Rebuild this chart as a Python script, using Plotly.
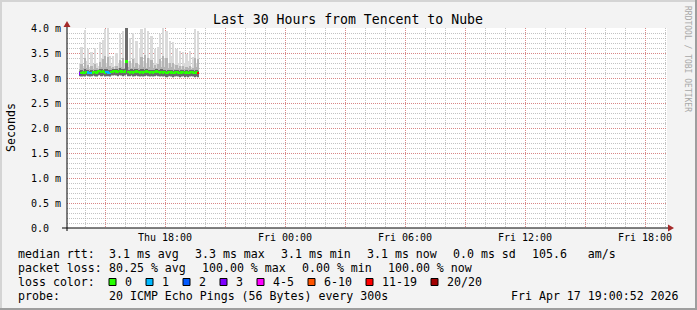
import numpy as np
import plotly.graph_objects as go

# ---------------- data ----------------
title = "Last 30 Hours from Tencent to Nube"
start_hour = 13.75          # Thu 13:45 (hours since Thu 00:00)
step_minutes = 5

median_ms = [3.09, 3.10, 3.11, 3.10, 3.12, 3.11, 3.10, 3.10, 3.11, 3.12,
             3.11, 3.13, 3.14, 3.12, 3.13, 3.11, 3.12, 3.11, 3.10, 3.12,
             3.13, 3.14, 3.13, 3.12, 3.14, 3.13, 3.12, 3.13, 3.33, 3.12,
             3.11, 3.12, 3.11, 3.12, 3.13, 3.12, 3.11, 3.12, 3.11, 3.12,
             3.13, 3.12, 3.11, 3.12, 3.11, 3.12, 3.13, 3.12, 3.11, 3.12,
             3.11, 3.12, 3.10, 3.11, 3.12, 3.11, 3.10, 3.11, 3.12, 3.11,
             3.10, 3.11, 3.12, 3.10, 3.11, 3.10, 3.11, 3.12, 3.11, 3.10, 3.11, 3.10]

min_ms = [3.03, 3.02, 3.03, 3.02, 3.04, 3.03, 3.02, 3.03, 3.04, 3.03,
          3.02, 3.04, 3.05, 3.03, 3.04, 3.02, 3.03, 3.03, 3.02, 3.04,
          3.04, 3.05, 3.04, 3.03, 3.05, 3.04, 3.03, 3.04, 3.06, 3.03,
          3.03, 3.04, 3.02, 3.03, 3.04, 3.03, 3.02, 3.03, 3.02, 3.03,
          3.04, 3.03, 3.02, 3.03, 3.02, 3.03, 3.04, 3.03, 3.02, 3.03,
          3.02, 3.03, 3.01, 3.02, 3.03, 3.02, 3.01, 3.02, 3.03, 3.02,
          3.01, 3.02, 3.03, 3.01, 3.02, 3.01, 3.02, 3.03, 3.02, 3.01, 3.02, 3.01]

dark_top_ms = [3.14, 3.16, 3.15, 3.18, 3.16, 3.17, 3.15, 3.16, 3.15, 3.17,
               3.16, 3.17, 3.19, 3.18, 3.17, 3.18, 3.19, 3.17, 3.16, 3.17,
               3.18, 3.19, 3.18, 3.17, 3.20, 3.19, 3.18, 3.18, 4.00, 3.17,
               3.17, 3.18, 3.17, 3.18, 3.19, 3.17, 3.16, 3.18, 3.19, 3.17,
               3.18, 3.17, 3.16, 3.17, 3.16, 3.17, 3.18, 3.17, 3.16, 3.18,
               3.16, 3.17, 3.15, 3.16, 3.17, 3.16, 3.15, 3.16, 3.17, 3.16,
               3.15, 3.16, 3.17, 3.15, 3.16, 3.15, 3.16, 3.17, 3.16, 3.15, 3.17, 3.15]

mid_top_ms = [3.18, 3.28, 3.20, 3.40, 3.20, 3.26, 3.18, 3.24, 3.18, 3.28,
              3.20, 3.19, 3.32, 3.22, 3.38, 3.45, 3.22, 3.42, 3.24, 3.20,
              3.22, 3.19, 3.24, 3.20, 3.36, 3.22, 3.40, 3.20, 3.90, 3.22,
              3.34, 3.20, 3.38, 3.22, 3.30, 3.20, 3.26, 3.42, 3.22, 3.46,
              3.20, 3.40, 3.22, 3.36, 3.20, 3.26, 3.21, 3.28, 3.38, 3.22,
              3.44, 3.22, 3.40, 3.20, 3.30, 3.22, 3.30, 3.19, 3.26, 3.20,
              3.24, 3.18, 3.24, 3.19, 3.22, 3.20, 3.24, 3.18, 3.20, 3.40, 3.22, 3.38]

max_ms = [3.30, 3.62, 3.25, 3.96, 3.35, 3.58, 3.22, 3.52, 3.28, 3.60,
          3.30, 3.25, 3.72, 3.40, 3.76, 3.98, 3.30, 4.00, 3.45, 3.28,
          3.45, 3.25, 3.50, 3.30, 3.88, 3.35, 3.95, 3.30, 4.00, 3.35,
          3.80, 3.30, 3.90, 3.40, 3.75, 3.28, 3.60, 3.98, 3.35, 4.00,
          3.30, 3.95, 3.40, 3.85, 3.28, 3.58, 3.30, 3.62, 3.88, 3.35,
          4.00, 3.40, 3.95, 3.30, 3.75, 3.45, 3.72, 3.28, 3.58, 3.30,
          3.55, 3.25, 3.52, 3.30, 3.48, 3.35, 3.55, 3.22, 3.42, 3.98, 3.30, 3.95]

loss_count = [3, 0, 0, 0, 0, 1, 1, 1, 0, 0,
              0, 0, 0, 0, 0, 0, 1, 1, 1, 0,
              0, 0, 0, 0, 0, 0, 0, 0, 0, 0,
              0, 0, 0, 0, 0, 0, 0, 0, 0, 0,
              0, 0, 0, 0, 0, 0, 0, 0, 0, 0,
              0, 0, 0, 0, 0, 0, 0, 0, 0, 0,
              0, 0, 0, 0, 0, 0, 0, 0, 0, 0, 0, 15]

tick_hours = [15, 18, 21, 24, 27, 30, 33, 36, 39, 42]
tick_labels = ["", "Thu 18:00", "", "Fri 00:00", "", "Fri 06:00", "", "Fri 12:00", "", "Fri 18:00"]
y_ticks = [0.0, 0.5, 1.0, 1.5, 2.0, 2.5, 3.0, 3.5, 4.0]
y_labels = ["0.0\u00a0\u00a0", "0.5 m", "1.0 m", "1.5 m", "2.0 m", "2.5 m", "3.0 m", "3.5 m", "4.0 m"]

loss_names = ["0", "1", "2", "3", "4-5", "6-10", "11-19", "20/20"]
loss_colors = ["#26ff00", "#00b8ff", "#0059ff", "#7e00ff", "#ff00ff", "#ff5500", "#ff0000", "#a10000"]

legend_rows = [
    ["median rtt:", "3.1 ms avg", "3.3 ms max", "3.1 ms min", "3.1 ms now", "0.0 ms sd", "105.6   am/s"],
    ["packet loss:", "80.25 % avg", "100.00 % max", "0.00 % min", "100.00 % now"],
]
probe_text = "20 ICMP Echo Pings (56 Bytes) every 300s"
stamp_text = "Fri Apr 17 19:00:52 2026"

# ---------------- layout helpers ----------------
W, H = 697, 310
L, R, T, B = 67, 30, 28, 82
PW, PH = W - L - R, H - T - B
def px(x): return (x - L) / PW
def py(y): return (H - B - y) / PH

MONO = "DejaVu Sans Mono"
x_hours = start_hour + np.arange(len(median_ms)) * step_minutes / 60.0
bw = step_minutes / 60.0

def loss_color(n):
    if n == 0: return loss_colors[0]
    if n == 1: return loss_colors[1]
    if n == 2: return loss_colors[2]
    if n == 3: return loss_colors[3]
    if n <= 5: return loss_colors[4]
    if n <= 10: return loss_colors[5]
    if n <= 19: return loss_colors[6]
    return loss_colors[7]

med = np.array(median_ms)
mn = np.array(min_ms)
fig = go.Figure()
for top, base, col in [(max_ms, mn, "#dadada"),
                       (mid_top_ms, mn + 0.01, "#b4b4b4"),
                       (dark_top_ms, mn + 0.02, "#6a6a6a")]:
    top = np.array(top)
    fig.add_trace(go.Bar(x=x_hours, y=top - base, base=base, width=bw,
                         marker=dict(color=col, line=dict(width=0)),
                         hoverinfo="skip", showlegend=False))
fig.add_trace(go.Bar(x=x_hours, y=[0.05] * len(med), base=med - 0.025, width=bw,
                     marker=dict(color=[loss_color(n) for n in loss_count], line=dict(width=0)),
                     hoverinfo="skip", showlegend=False))

grid_major = "rgba(222,120,120,0.8)"
grid_minor = "rgba(170,170,170,0.7)"
fig.update_layout(
    width=W, height=H, autosize=False,
    margin=dict(l=L, r=R, t=T, b=B, pad=0),
    paper_bgcolor="#f3f3f3", plot_bgcolor="#ffffff",
    barmode="overlay", bargap=0, showlegend=False,
    font=dict(family=MONO, size=10, color="#000000"),
    xaxis=dict(range=[13.1, 43.1], tickmode="array", tickvals=tick_hours, ticktext=tick_labels,
               showgrid=True, gridcolor=grid_major, griddash="1px,1px", gridwidth=1,
               zeroline=False, showline=False, ticks="", ticklabelstandoff=2,
               tickfont=dict(family=MONO, size=10, color="#000"),
               minor=dict(dtick=1, tick0=0, showgrid=True, gridcolor=grid_minor,
                          griddash="1px,1px", gridwidth=1, ticks="")),
    yaxis=dict(range=[0, 4.0001], tickmode="array", tickvals=y_ticks, ticktext=y_labels,
               showgrid=True, gridcolor=grid_major, griddash="1px,1px", gridwidth=1,
               zeroline=False, showline=False, ticks="", ticklabelstandoff=5,
               tickfont=dict(family=MONO, size=10, color="#000"),
               minor=dict(dtick=0.1, tick0=0, showgrid=True, gridcolor=grid_minor,
                          griddash="1px,1px", gridwidth=1, ticks="")),
)

shapes = []
# axes + arrows
shapes.append(dict(type="line", xref="paper", yref="paper", x0=px(62), x1=px(669), y0=py(228), y1=py(228),
                   line=dict(color="#000000", width=1)))
shapes.append(dict(type="line", xref="paper", yref="paper", x0=px(67), x1=px(67), y0=py(231), y1=py(24),
                   line=dict(color="#000000", width=1)))
shapes.append(dict(type="path", xref="paper", yref="paper",
                   path=f"M {px(668)},{py(224.5)} L {px(674)},{py(228)} L {px(668)},{py(231.5)} Z",
                   fillcolor="#a52a2a", line=dict(width=0)))
shapes.append(dict(type="path", xref="paper", yref="paper",
                   path=f"M {px(63.5)},{py(27)} L {px(67)},{py(21)} L {px(70.5)},{py(27)} Z",
                   fillcolor="#a52a2a", line=dict(width=0)))
# outer frame
shapes.append(dict(type="rect", xref="paper", yref="paper", x0=px(0), x1=px(697), y0=py(0), y1=py(2),
                   fillcolor="#d4d4d4", line=dict(width=0)))
shapes.append(dict(type="rect", xref="paper", yref="paper", x0=px(0), x1=px(2), y0=py(0), y1=py(310),
                   fillcolor="#d4d4d4", line=dict(width=0)))
shapes.append(dict(type="rect", xref="paper", yref="paper", x0=px(695), x1=px(697), y0=py(0), y1=py(310),
                   fillcolor="#9e9e9e", line=dict(width=0)))
shapes.append(dict(type="rect", xref="paper", yref="paper", x0=px(0), x1=px(697), y0=py(308), y1=py(310),
                   fillcolor="#9e9e9e", line=dict(width=0)))

ann = []
def text(x, y, s, size=11.6, anchor="left", color="#000", angle=0):
    ann.append(dict(x=px(x), y=py(y), xref="paper", yref="paper", text=s, showarrow=False,
                    xanchor=anchor, yanchor="middle", textangle=angle,
                    font=dict(family=MONO, size=size, color=color)))

text(348, 19, title, size=13.2, anchor="center")
text(11, 128, "Seconds", size=11.6, anchor="center", angle=-90)
text(688, 59, "RRDTOOL / TOBI OETIKER", size=8.0, anchor="center", color="#a8a8a8", angle=90)

char_w, gap = 7.0, 16
row_y = [254, 268, 282, 296]
for r, row in enumerate(legend_rows):
    x = 16
    for j, s in enumerate(row):
        if j == 1:
            x = 107
        text(x, row_y[r], s)
        x += len(s) * char_w + gap

text(16, row_y[2], "loss color:")
bx = 109
for name, col in zip(loss_names, loss_colors):
    shapes.append(dict(type="rect", xref="paper", yref="paper", x0=px(bx), x1=px(bx + 7),
                       y0=py(278.5), y1=py(285.5), fillcolor=col, line=dict(color="#000", width=1)))
    text(bx + 14, row_y[2], name)
    bx = bx + 14 + len(name) * char_w + gap

text(16, row_y[3], "probe:")
text(107, row_y[3], probe_text)
text(681, row_y[3], stamp_text, anchor="right")

fig.update_layout(shapes=shapes, annotations=ann)
fig.write_html("out.html")
